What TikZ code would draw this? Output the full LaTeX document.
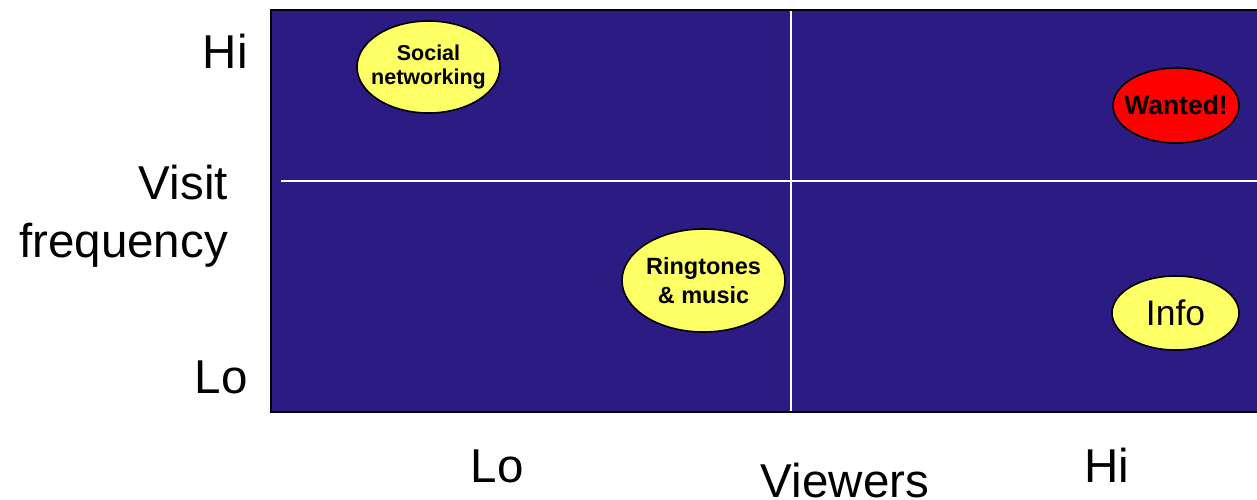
\documentclass[tikz,border=0pt]{standalone}
\usepackage{fontspec}
\setmainfont{Liberation Sans}
\usetikzlibrary{shapes.geometric}
\definecolor{gridnavy}{HTML}{2D1B84}
\definecolor{bubbleyellow}{HTML}{FFFF66}
\definecolor{bubblered}{HTML}{FF0000}
\begin{document}
\begin{tikzpicture}[x=1pt,y=-1pt,
  axislabel/.style={font=\fontsize{47.5}{56}\selectfont, inner sep=0pt},
  bubble/.style={ellipse, draw=black, line width=1.6pt, fill=bubbleyellow, inner sep=0pt},
  bubbletext/.style 2 args={align=center, inner sep=0pt, font=\bfseries\fontsize{#1}{#2}\selectfont},
  divider/.style={draw=white, line width=1.8pt}]
  \clip (0,0) rectangle (1257,500);
  \fill[white] (0,0) rectangle (1257,500);

  % matrix panel
  \fill[gridnavy] (271,10) rectangle (1270,412);
  \draw[black, line width=2.5pt] (1270,10) -- (271,10) -- (271,412) -- (1270,412);

  % quadrant dividers
  \coordinate (vtop) at (791,11);
  \coordinate (vbot) at (791,411);
  \coordinate (hleft) at (281,181);
  \coordinate (hright) at (1260,181);
  \draw[divider] (vtop) -- (vbot);
  \draw[divider] (hleft) -- (hright);

  % bubbles
  \node[bubble, minimum width=143pt, minimum height=92pt] (social) at (428.5,67) {};
  \node[bubbletext={21.5}{24}] (socialtext) at (social) {Social\\networking};

  \node[bubble, fill=bubblered, minimum width=126pt, minimum height=75pt] (wanted) at (1176,105.5) {};
  \node[bubbletext={26.5}{30}] (wantedtext) at (wanted) {Wanted!};

  \node[bubble, minimum width=163pt, minimum height=103pt] (ring) at (703.5,280.5) {};
  \node[bubbletext={23.5}{29}] (ringtext) at (ring) {Ringtones\\\&\ music};

  \node[bubble, minimum width=127pt, minimum height=74pt] (info) at (1175.5,313) {};
  \node[inner sep=0pt, font=\fontsize{35.5}{40}\selectfont] (infotext) at (info) {Info};

  % vertical axis labels
  \node[axislabel, anchor=base east] (yhi) at (248,68.5) {Hi};
  \node[axislabel, anchor=base east] (yvisit) at (228,199.5) {Visit};
  \node[axislabel, anchor=base east] (yfreq) at (228,257.5) {frequency};
  \node[axislabel, anchor=base east] (ylo) at (248,393) {Lo};

  % horizontal axis labels
  \node[axislabel, anchor=base] (xlo) at (497,482) {Lo};
  \node[axislabel, anchor=base] (xviewers) at (845,497) {Viewers};
  \node[axislabel, anchor=base] (xhi) at (1107,482) {Hi};
\end{tikzpicture}
\end{document}
